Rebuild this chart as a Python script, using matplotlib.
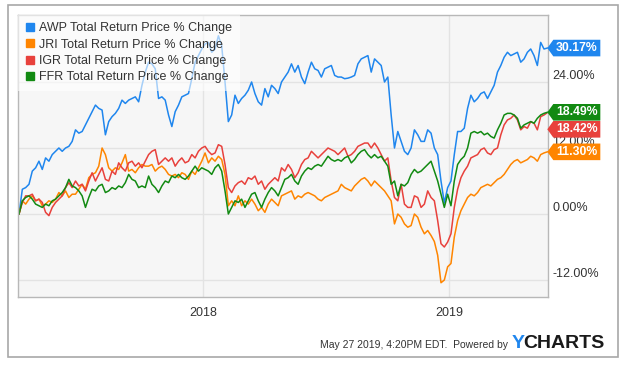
import numpy as np
import pandas as pd
import matplotlib
matplotlib.use('Agg')
import matplotlib.pyplot as plt
import matplotlib.dates as mdates
import matplotlib.transforms as mtransforms
from matplotlib.lines import Line2D
from matplotlib.patches import Polygon, Rectangle

plt.rcParams['font.family'] = ['Liberation Sans', 'DejaVu Sans']

# readings (total return %, roughly every 5 days)
dates = pd.date_range('2017-04-03', '2019-05-27', periods=160)

awp = [0,
       4.5, 4.8, 5.4, 7.8, 8.4, 9.6, 8.1, 10.2, 9.6, 10.8, 11.4, 12, 11.4, 12, 12.3, 13.2, 15.3, 14.7, 15, 16.2,
       17.4, 18.6, 19.8, 19.2, 18.9, 14.4, 16.8, 17.7, 18.3, 19.2, 20.7, 20.1, 20.7, 21, 21.3, 20.4, 23.4, 25.8, 27.6,
       27.3, 26.4, 21, 21.3, 20.7, 18, 15.9, 18.6, 19.8, 21.3, 21.6, 21.9, 24.6, 27.6, 28.8, 30, 30.9, 31.2, 29.4,
       30, 32.4, 30.6, 24, 16.8, 18, 21.6, 20.1, 21, 21.6, 22.5, 24, 21.9, 20.4, 19.8, 22.8, 21.3, 23.4, 22.8,
       21.9, 24, 24.9, 25.8, 27.3, 25.8, 27, 24.9, 23.7, 25.8, 27.6, 26.4, 26.1, 24.9, 26.4, 26.7, 27, 25.2, 24.9,
       24.9, 24.6, 24.7, 24.9, 25.2, 27.3, 28.2, 28.5, 28.8, 25.8, 28.2, 27.6, 27, 24, 24.9, 18, 12, 15, 13.2, 11.4, 10.8,
       12, 15.3, 14.4, 13.2, 13.2, 15.3, 14.7, 12, 10.8, 6, 2, 4.8, 6, 10.8, 15, 15, 15.6, 19.2, 21.6, 20.4, 21,
       21.9, 22.2, 21, 22.2, 23.4, 25.8, 27, 28.5, 29.4, 28.8, 29.1, 29.4, 27.6, 28.2, 29.4, 30, 28.8, 27, 31.2, 30, 30.17]

jri = [0,
       2.4, 1.8, 2.7, 3.3, 2.4, 2.7, 1.5, 1.8, 2.4, 2.1, 2.7, 3.9, 3.3, 4.2, 3, 3.6, 3.6, 4.5, 5.4, 4.5,
       6.6, 7.2, 7.5, 8.7, 12, 10.8, 8.4, 7.8, 8.4, 8.1, 9.3, 10.8, 7.8, 8.1, 7.5, 8.4, 9, 8.7, 8.7,
       9, 7.8, 8.4, 8.7, 8.1, 7.2, 6.9, 7.2, 6.6, 7.5, 7.2, 6.3, 7.8, 7.2, 8.4, 9.6, 11.1, 9.3, 10.2,
       9.6, 10.5, 9.9, 7.2, 1.5, 2.4, 1.5, 3.3, 1.5, 2.4, 1.8, 2.7, 1.8, 0.6, 1.2, 0.3, 1.8, 2.7, 2.1,
       1.5, 3.3, 3.6, 3.9, 4.2, 2.7, 3.3, 3, 3.6, 3.9, 3.6, 3.3, 2.7, 2.4, 3, 3.3, 3.6, 3.9, 4.2,
       5.4, 4.8, 4.5, 4.2, 5.1, 5.7, 6.3, 6.6, 6, 5.1, 6, 5.4, 4.8, 4.2, 3.3, 2.4, -1.8, 0, -0.6, -1.8, -2.4,
       -2.1, 0, -0.6, -2.4, -3.6, -3, -3.9, -5, -7.5, -12.5, -12, -9.6, -9, -4.2, -1.2, 0.6, 1.8, 3, 3.6, 3.3, 3.9,
       4.8, 5.1, 5.4, 5.1, 5.7, 6.3, 6.6, 7.2, 8.1, 9, 9.6, 9.9, 9.3, 9.6, 9.9, 10.5, 10.2, 9.6, 10.8, 11.1, 11.3]

igr = [0,
       2.1, 3.3, 3.3, 3.6, 2.4, 2.7, 2.1, 0.3, -0.3, 1.2, 2.1, 2.7, 3.3, 4.8, 5.7, 4.8, 6, 5.1, 5.4, 4.2,
       6, 7.5, 6, 7.2, 8.4, 6.3, 6, 7.8, 7.2, 9.3, 8.4, 7.8, 9.3, 9.6, 8.7, 9.3, 8.4, 9.6, 10.8,
       11.4, 11.7, 9, 9.6, 10.2, 9.6, 10.2, 8.7, 9.6, 10.2, 9.3, 9.6, 10.8, 10.2, 11.4, 12, 12.3, 11.4, 10.8,
       11.1, 12.6, 12.3, 9, 4.8, 3.9, 5.1, 5.7, 6, 5.4, 6.6, 6.3, 6.9, 5.4, 6, 4.5, 5.4, 6, 6.6,
       6, 8.4, 7.8, 9, 8.1, 6.6, 7.5, 9, 9.9, 10.2, 11.4, 10.8, 10.2, 10.8, 11.4, 12, 11.7, 11.4, 10.8,
       11.4, 12, 10.5, 10.8, 11.4, 12.3, 12.6, 12.9, 12.9, 12, 12.9, 12, 10.8, 9.6, 10.2, 6, 3, 2.4, 5.4, 1.8, 1.2,
       1.2, 3.3, 3, 1.2, 1.8, 4.2, 3, 2.4, -1.2, -5.4, -6, -5.1, -3.6, 1.2, 4.5, 6.6, 7.8, 8.7, 10.2, 10.5, 10.8,
       11.7, 12, 11.1, 10.8, 11.7, 12, 14.4, 16.2, 17.1, 17.4, 18, 17.1, 15.3, 15.9, 15.6, 16.8, 16.5, 15.3, 17.7, 18, 18.42]

ffr = [0,
       2.4, 3, 3.3, 2.7, 1.8, 1.5, 1.2, 1.8, 1.5, 2.4, 2.7, 3.3, 3.9, 4.8, 6.3, 5.1, 4.8, 4.2, 3.3, 1.2,
       3, 4.5, 4.2, 5.1, 5.4, 3.9, 4.2, 4.8, 4.5, 5.1, 4.8, 5.7, 7.2, 6.3, 6, 4.8, 5.1, 4.8, 6.9,
       5.4, 4.8, 3.9, 5.1, 6, 5.7, 6.9, 6.6, 7.2, 6.6, 6.3, 6.9, 7.8, 8.7, 7.8, 8.4, 8.1, 7.8, 7.2,
       8.4, 9, 7.8, 4.2, 0, 1.2, 2.4, 2.1, 2.7, 1.2, 2.4, 3.6, 3.9, 2.4, 1.2, 2.7, 3.9, 4.8, 4.2,
       3.3, 4.8, 6.3, 6.6, 7.2, 6, 5.4, 6.9, 7.8, 8.4, 8.1, 8.7, 9, 8.7, 9.6, 10.5, 9.9, 9.6, 9.9,
       9.6, 10.2, 10.5, 9.3, 9.9, 10.8, 11.4, 11.7, 10.8, 10.2, 10.8, 10.2, 10.5, 9.6, 8.7, 5.4, 6, 3.3, 5.4, 5.1, 5.7,
       7.2, 8.1, 7.5, 7.8, 8.4, 9, 9.6, 7.8, 6, 3.6, 1.2, 3.6, 1.5, 6, 9, 9.9, 10.5, 12, 14.7, 15, 14.7,
       15, 14.4, 14.7, 14.1, 13.8, 15.3, 16.5, 18, 18.3, 18.3, 18, 17.4, 15.6, 16.2, 16.5, 16.8, 16.5, 17.4, 18, 18.3, 18.49]

names = ['AWP', 'JRI', 'IGR', 'FFR']
series = [awp, jri, igr, ffr]
colors = ['#1f86ee', '#ff8500', '#e8413c', '#128a12']

fig = plt.figure(figsize=(6.4, 3.68), dpi=100)
ax = fig.add_axes([18 / 640, 1 - 297 / 368, 530 / 640, 282 / 368])
ax.set_facecolor('#f6f6f6')

for name, vals, c in zip(names, series, colors):
    ax.plot(dates, vals, color=c, lw=1.1)

ax.set_xlim(pd.Timestamp('2017-04-01 12:00'), pd.Timestamp('2019-05-28'))
ax.set_ylim(-15.09, 36.18)

ax.set_xticks([pd.Timestamp('2018-01-01'), pd.Timestamp('2019-01-01')])
ax.set_xticklabels(['2018', '2019'])
ax.set_yticks([-12, 0, 12, 24])
ax.set_yticklabels(['-12.00%', '0.00%', '12.00%', '24.00%'])
ax.yaxis.tick_right()
ax.tick_params(axis='both', length=0, labelsize=9, labelcolor='#333333')
ax.tick_params(axis='x', pad=7.5)
ax.tick_params(axis='y', pad=3)
for lab in ax.get_yticklabels():
    lab.set_va('bottom')
ax.grid(True, color='#e3e3e3', lw=1)
ax.set_axisbelow(True)
for sp in ax.spines.values():
    sp.set_color('#b8b8b8')
    sp.set_linewidth(1)

handles = [Line2D([], [], marker='s', ls='none', color=c, markersize=5.5) for c in colors]
leg = ax.legend(handles, [n + ' Total Return Price % Change' for n in names],
                loc='upper left', fontsize=9, frameon=True, facecolor='white', framealpha=0.6,
                edgecolor='none', borderaxespad=0, borderpad=0.6, handlelength=0.7,
                handletextpad=0.4, labelspacing=0.34, fancybox=False)
for t in leg.get_texts():
    t.set_color('#333333')

# end-of-line value tags, pushed apart when they overlap
px_per_unit = 282 / (36.18 + 15.09)
min_gap = 17 / px_per_unit
last = [v[-1] for v in series]
order = np.argsort(last)[::-1]
tag_y = {}
prev = None
for i in order:
    y = last[i]
    if prev is not None and prev - y < min_gap:
        y = prev - min_gap
    tag_y[i] = y
    prev = y

xend = mdates.date2num(dates[-1])
for i in range(len(series)):
    trans = fig.dpi_scale_trans + mtransforms.ScaledTranslation(xend, tag_y[i], ax.transData)
    pts = np.array([[0, 0], [6, 8.3], [53, 8.3], [53, -8.3], [6, -8.3]]) / 100
    ax.add_patch(Polygon(pts, closed=True, transform=trans, facecolor=colors[i],
                         edgecolor='none', clip_on=False, zorder=6))
    ax.annotate(f'{last[i]:.2f}%', xy=(xend, tag_y[i]), xytext=(29.5 * 0.72, 0),
                textcoords='offset points', ha='center', va='center', color='white',
                fontsize=8.8, fontweight='bold', annotation_clip=False, zorder=7)

# outer frame and footer
fig.patches.append(Rectangle((8 / 640, 1 - 357 / 368), 610 / 640, 352 / 368, transform=fig.transFigure,
                             fill=False, edgecolor='#a8a8a8', lw=1.2))
fig.text(508 / 640, 1 - 345.5 / 368, 'May 27 2019, 4:20PM EDT.  Powered by', ha='right', va='center',
         fontsize=7.5, color='#333333')
y_logo = fig.text(512 / 640, 1 - 344 / 368, 'Y', ha='left', va='center', fontsize=14,
                  fontweight='bold', color='#1f86ee')
fig.canvas.draw()
bb = y_logo.get_window_extent()
fig.text((bb.x1 - 1.5) / fig.bbox.width, 1 - 344 / 368, 'CHARTS', ha='left', va='center',
         fontsize=14, fontweight='bold', color='#1a1a1a')

fig.savefig('out.png', dpi=100)
